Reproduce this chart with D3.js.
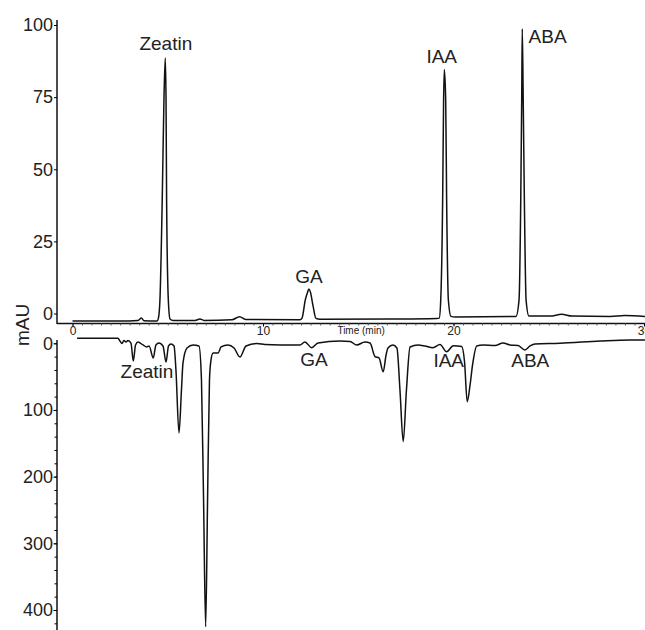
<!DOCTYPE html>
<html>
<head>
<meta charset="utf-8">
<script src="https://cdn.jsdelivr.net/npm/d3@7"></script>
<style>
  body { margin: 0; background: #fff; }
  text { font-family: "Liberation Sans", Arial, Helvetica, sans-serif; fill: #222; }
</style>
</head>
<body>
<svg id="chart" width="645" height="630"></svg>
<script>
// time (min) and absorbance (mAU)
var topTime = [0, 2.49, 3.44, 3.62, 3.75, 4.44, 4.51, 4.59, 4.71, 4.80, 4.87, 4.91, 4.94, 5.03, 5.12, 5.28,
  6.43, 6.69, 6.90, 8.37, 8.77, 9.11, 11.94, 12.05, 12.22, 12.34, 12.41, 12.49, 12.62, 12.78, 12.99,
  16.67, 19.13, 19.25, 19.33, 19.43, 19.48, 19.52, 19.59, 19.64, 19.73, 19.87, 20.1,
  23.28, 23.44, 23.53, 23.58, 23.61, 23.66, 23.72, 23.81, 23.96, 25.07, 25.68, 26.22, 28.22, 29.0, 30.05];
var topValue = [-2.6, -2.6, -2.4, -1.6, -2.5, -2.6, -1.6, 4.7, 39.3, 73.9, 88.6, 73.9, 39.3, 4.7, -1.9, -2.4,
  -2.4, -1.9, -2.4, -2.2, -1.1, -2.1, -2.2, -1.6, 4.7, 7.4, 8.5, 7.4, 2.9, -1.7, -2.0,
  -1.9, -1.7, -1.6, 4.7, 39.3, 73.9, 84.6, 73.9, 39.3, 4.7, -1.0, -1.2,
  -1.0, 4.7, 39.3, 73.9, 98.7, 73.9, 39.3, 4.7, -0.9, -0.9, -0.3, -0.9, -1.0, -0.7, -1.0];

var bottomTime = [0.24, 2.39, 2.49, 2.60, 2.70, 2.81, 2.91, 3.07, 3.19, 3.31, 3.44, 3.70, 3.90, 4.02, 4.24,
  4.38, 4.54, 4.75, 4.91, 5.04, 5.17, 5.33, 5.43, 5.59, 5.72, 5.80, 6.01, 6.33, 6.64, 6.77, 6.88, 6.99,
  7.09, 7.19, 7.27, 7.38, 7.64, 7.80, 8.16, 8.48, 8.79, 9.11, 9.69, 10.10, 10.89, 11.94, 12.2, 12.56,
  12.89, 14.04, 14.57, 14.92, 15.35, 15.62, 15.88, 16.09, 16.31, 16.46, 16.56, 16.82, 17.03, 17.19,
  17.36, 17.53, 17.72, 18.14, 18.50, 18.92, 19.29, 19.64, 19.99, 20.43, 20.58, 20.72, 20.87, 21.00,
  21.22, 21.55, 22.18, 22.60, 22.97, 23.39, 23.75, 24.02, 24.28, 25.59, 27.69, 29.26, 30.05];
var bottomValue = [-7.5, -7.5, -3.4, 0.3, -4.2, -1.9, -4.2, -0.4, 26.5, 2.5, -1.9, 2.5, 5.5, 4.0, 22.0,
  2.5, -0.4, 4.0, 28.0, 4.0, 1.0, 4.0, 40, 134.5, 70, 29.5, 7.0, 2.5, 4.0, 55, 235, 425,
  235, 55, 25, 14.5, 14.5, 5.5, 2.5, 7.0, 20.5, 4.0, 0.3, 1.8, 2.5, 2.5, -1.9, 6.6,
  -0.4, -3.4, -2.7, 2.5, -1.9, -0.4, 20, 22, 42.6, 17.5, 7.0, 2.5, 7.0, 70,
  147.5, 70, 5.5, 2.5, 4.0, 6.6, 1.8, 12.6, 3.6, 4.8, 28, 87.5, 62.5, 32.5,
  4.0, 2.5, 3.3, -0.4, 2.5, 3.3, 10.0, 4.0, 1.0, 0, -3.4, -5.0, -5.0];

// peak labels: anchor (time, value) in each panel's units
var peakNames = ["Zeatin", "GA", "IAA", "ABA"];
var topLabelTime = [4.9, 12.41, 19.38, 24.94];
var topLabelValue = [91.2, 10.6, 87.0, 93.6];
var bottomLabelTime = [3.91, 12.67, 19.75, 24.03];
var bottomLabelValue = [52, 34, 35.5, 35.5];

var topTicks = [0, 25, 50, 75, 100];
var bottomTicks = [0, 100, 200, 300, 400];
var timeTicks = [0, 10, 20, 30];

var svg = d3.select("#chart");
var axisX = 57;

var x = d3.scaleLinear().domain([0, 30]).range([72.5, 644]);
var yTop = d3.scaleLinear().domain([0, 100]).range([313.5, 25]);
var yBot = d3.scaleLinear().domain([0, 400]).range([343.3, 610]);

// top panel y axis
svg.append("line")
  .attr("x1", axisX).attr("x2", axisX).attr("y1", 20).attr("y2", 324)
  .attr("stroke", "#111").attr("stroke-width", 1.5);
var gTop = svg.append("g").attr("transform", "translate(" + axisX + ",0)")
  .call(d3.axisLeft(yTop).tickValues(topTicks).tickSize(3).tickPadding(1));
gTop.select(".domain").remove();
gTop.selectAll("text").style("font-size", "18px").attr("fill", "#222");

// bottom panel y axis (inverted)
svg.append("line")
  .attr("x1", axisX).attr("x2", axisX).attr("y1", 340).attr("y2", 630)
  .attr("stroke", "#111").attr("stroke-width", 1.5);
var gBotMinor = svg.append("g").attr("transform", "translate(" + axisX + ",0)")
  .call(d3.axisLeft(yBot).tickValues(d3.range(0, 421, 20)).tickSize(2.5).tickFormat(""));
gBotMinor.select(".domain").remove();
var gBot = svg.append("g").attr("transform", "translate(" + axisX + ",0)")
  .call(d3.axisLeft(yBot).tickValues(bottomTicks).tickSize(3.5).tickPadding(0.5));
gBot.select(".domain").remove();
gBot.selectAll("text").style("font-size", "18px").attr("fill", "#222");

// time axis between the panels
var axisY = 323.5;
svg.append("line")
  .attr("x1", axisX).attr("x2", 645).attr("y1", axisY).attr("y2", axisY)
  .attr("stroke", "#111").attr("stroke-width", 1.5);
var gxMinor = svg.append("g").attr("transform", "translate(0," + axisY + ")")
  .call(d3.axisBottom(x).tickValues(d3.range(0, 30.01, 0.5)).tickSize(2).tickFormat(""));
gxMinor.select(".domain").remove();
gxMinor.selectAll("line").attr("stroke", "#555");
var gx = svg.append("g").attr("transform", "translate(0," + axisY + ")")
  .call(d3.axisBottom(x).tickValues(timeTicks).tickSize(3).tickPadding(0));
gx.select(".domain").remove();
gx.selectAll("text").style("font-size", "12px").attr("fill", "#222");

svg.append("text")
  .attr("x", x(15.15)).attr("y", 334)
  .attr("text-anchor", "middle")
  .style("font-size", "10px")
  .text("Time (min)");

svg.append("text")
  .attr("transform", "translate(29,325) rotate(-90)")
  .attr("text-anchor", "middle")
  .style("font-size", "19px")
  .text("mAU");

// traces
var lineTop = d3.line()
  .x(function(d, i) { return x(topTime[i]); })
  .y(function(d) { return yTop(d); })
  .curve(d3.curveMonotoneX);
var lineBot = d3.line()
  .x(function(d, i) { return x(bottomTime[i]); })
  .y(function(d) { return yBot(d); })
  .curve(d3.curveMonotoneX);

svg.append("path").datum(topValue)
  .attr("d", lineTop)
  .attr("fill", "none").attr("stroke", "#111").attr("stroke-width", 1.5)
  .attr("stroke-linejoin", "round");
svg.append("path").datum(bottomValue)
  .attr("d", lineBot)
  .attr("fill", "none").attr("stroke", "#111").attr("stroke-width", 1.5)
  .attr("stroke-linejoin", "round");

// peak labels
svg.selectAll(".toplabel")
  .data(peakNames)
  .enter().append("text")
  .attr("class", "toplabel")
  .attr("x", function(d, i) { return x(topLabelTime[i]); })
  .attr("y", function(d, i) { return yTop(topLabelValue[i]); })
  .attr("text-anchor", "middle")
  .style("font-size", "19px")
  .text(function(d) { return d; });

svg.selectAll(".botlabel")
  .data(peakNames)
  .enter().append("text")
  .attr("class", "botlabel")
  .attr("x", function(d, i) { return x(bottomLabelTime[i]); })
  .attr("y", function(d, i) { return yBot(bottomLabelValue[i]); })
  .attr("text-anchor", "middle")
  .style("font-size", "19px")
  .text(function(d) { return d; });
</script>
</body>
</html>
